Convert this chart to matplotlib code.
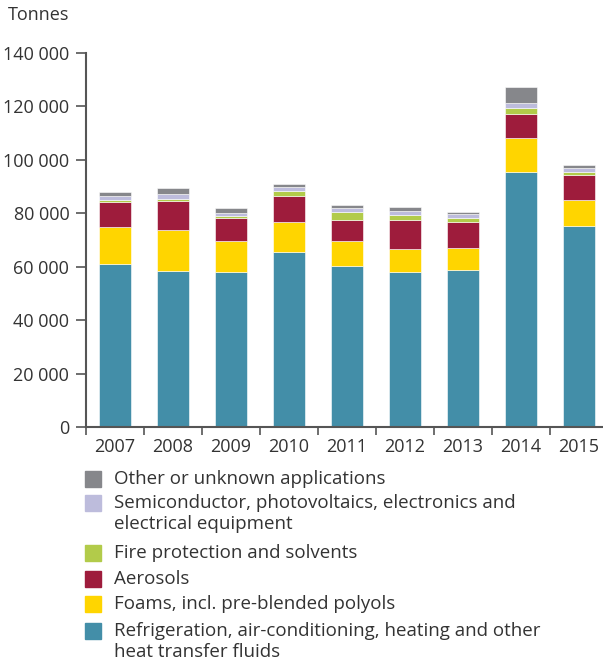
import matplotlib.pyplot as plt
from matplotlib.patches import Rectangle
import numpy as np

plt.rcParams['font.family'] = ['Open Sans', 'DejaVu Sans']

years = ['2007', '2008', '2009', '2010', '2011', '2012', '2013', '2014', '2015']

# thousand tonnes
refrigeration = [61.1, 58.3, 58.0, 65.4, 60.4, 58.0, 58.6, 95.3, 75.1]
foams = [13.9, 15.3, 11.8, 11.5, 9.4, 8.5, 8.3, 13.0, 9.7]
aerosols = [9.1, 11.1, 8.3, 9.4, 7.6, 11.0, 9.7, 9.0, 9.4]
fire = [0.9, 0.7, 0.7, 1.9, 2.9, 1.9, 1.5, 2.2, 1.3]
semiconductor = [1.3, 1.9, 1.3, 1.7, 1.7, 1.6, 1.6, 1.8, 1.6]
other = [1.5, 2.0, 1.9, 1.0, 1.1, 1.2, 0.8, 5.9, 0.8]

labels = ['Refrigeration, air-conditioning, heating and other\nheat transfer fluids',
          'Foams, incl. pre-blended polyols',
          'Aerosols',
          'Fire protection and solvents',
          'Semiconductor, photovoltaics, electronics and\nelectrical equipment',
          'Other or unknown applications']
colors = ['#438ea8', '#ffd500', '#9e1c3c', '#b2cb4a', '#bdbcdc', '#86878b']
series = [refrigeration, foams, aerosols, fire, semiconductor, other]

text_col = '#333333'
axis_col = '#555555'

fig = plt.figure(figsize=(6.03, 6.62), dpi=100)
ax = fig.add_axes([86/603, (662-427)/662, (603-86)/603, (427-53)/662])

x = np.arange(len(years))
bottom = np.zeros(len(years))
for vals, c in zip(series, colors):
    v = np.array(vals) * 1000
    ax.bar(x, v, 0.56, bottom=bottom, color=c, edgecolor='white', linewidth=0.4)
    bottom += v

ax.set_xlim(-0.5, -0.5 + 517/58)
ax.set_ylim(0, 140000)
yt = np.arange(0, 140001, 20000)
ax.set_yticks(yt)
ax.set_yticklabels([f'{int(t):,}'.replace(',', ' ') for t in yt])
ax.set_xticks(x)
ax.set_xticklabels(years)
ax.set_xticks(np.arange(-0.5, 8.5, 1), minor=True)
ax.tick_params(axis='x', which='major', length=0, pad=8, labelsize=13, labelcolor=text_col)
ax.tick_params(axis='x', which='minor', length=6, color=axis_col, width=1.2)
ax.tick_params(axis='y', length=7, color=axis_col, width=1.2, pad=5, labelsize=13, labelcolor=text_col)

for s in ['top', 'right']:
    ax.spines[s].set_visible(False)
for s in ['left', 'bottom']:
    ax.spines[s].set_color(axis_col)
    ax.spines[s].set_linewidth(1.5)

fig.text(8/603, 1 - 15/662, 'Tonnes', fontsize=13, color=text_col, va='center', ha='left')

# legend, top to bottom in reverse stacking order
rows = [479, 503, 553, 579, 604, 631]
for lab, c, y in zip(labels[::-1], colors[::-1], rows):
    fig.patches.append(Rectangle((85/603, 1 - (y + 8)/662), 16/603, 16/662,
                                 transform=fig.transFigure, color=c))
    fig.text(114/603, 1 - (y - 9)/662, lab, fontsize=13.5, color=text_col,
             va='top', ha='left', linespacing=1.2)

fig.savefig('out.png', dpi=100)
